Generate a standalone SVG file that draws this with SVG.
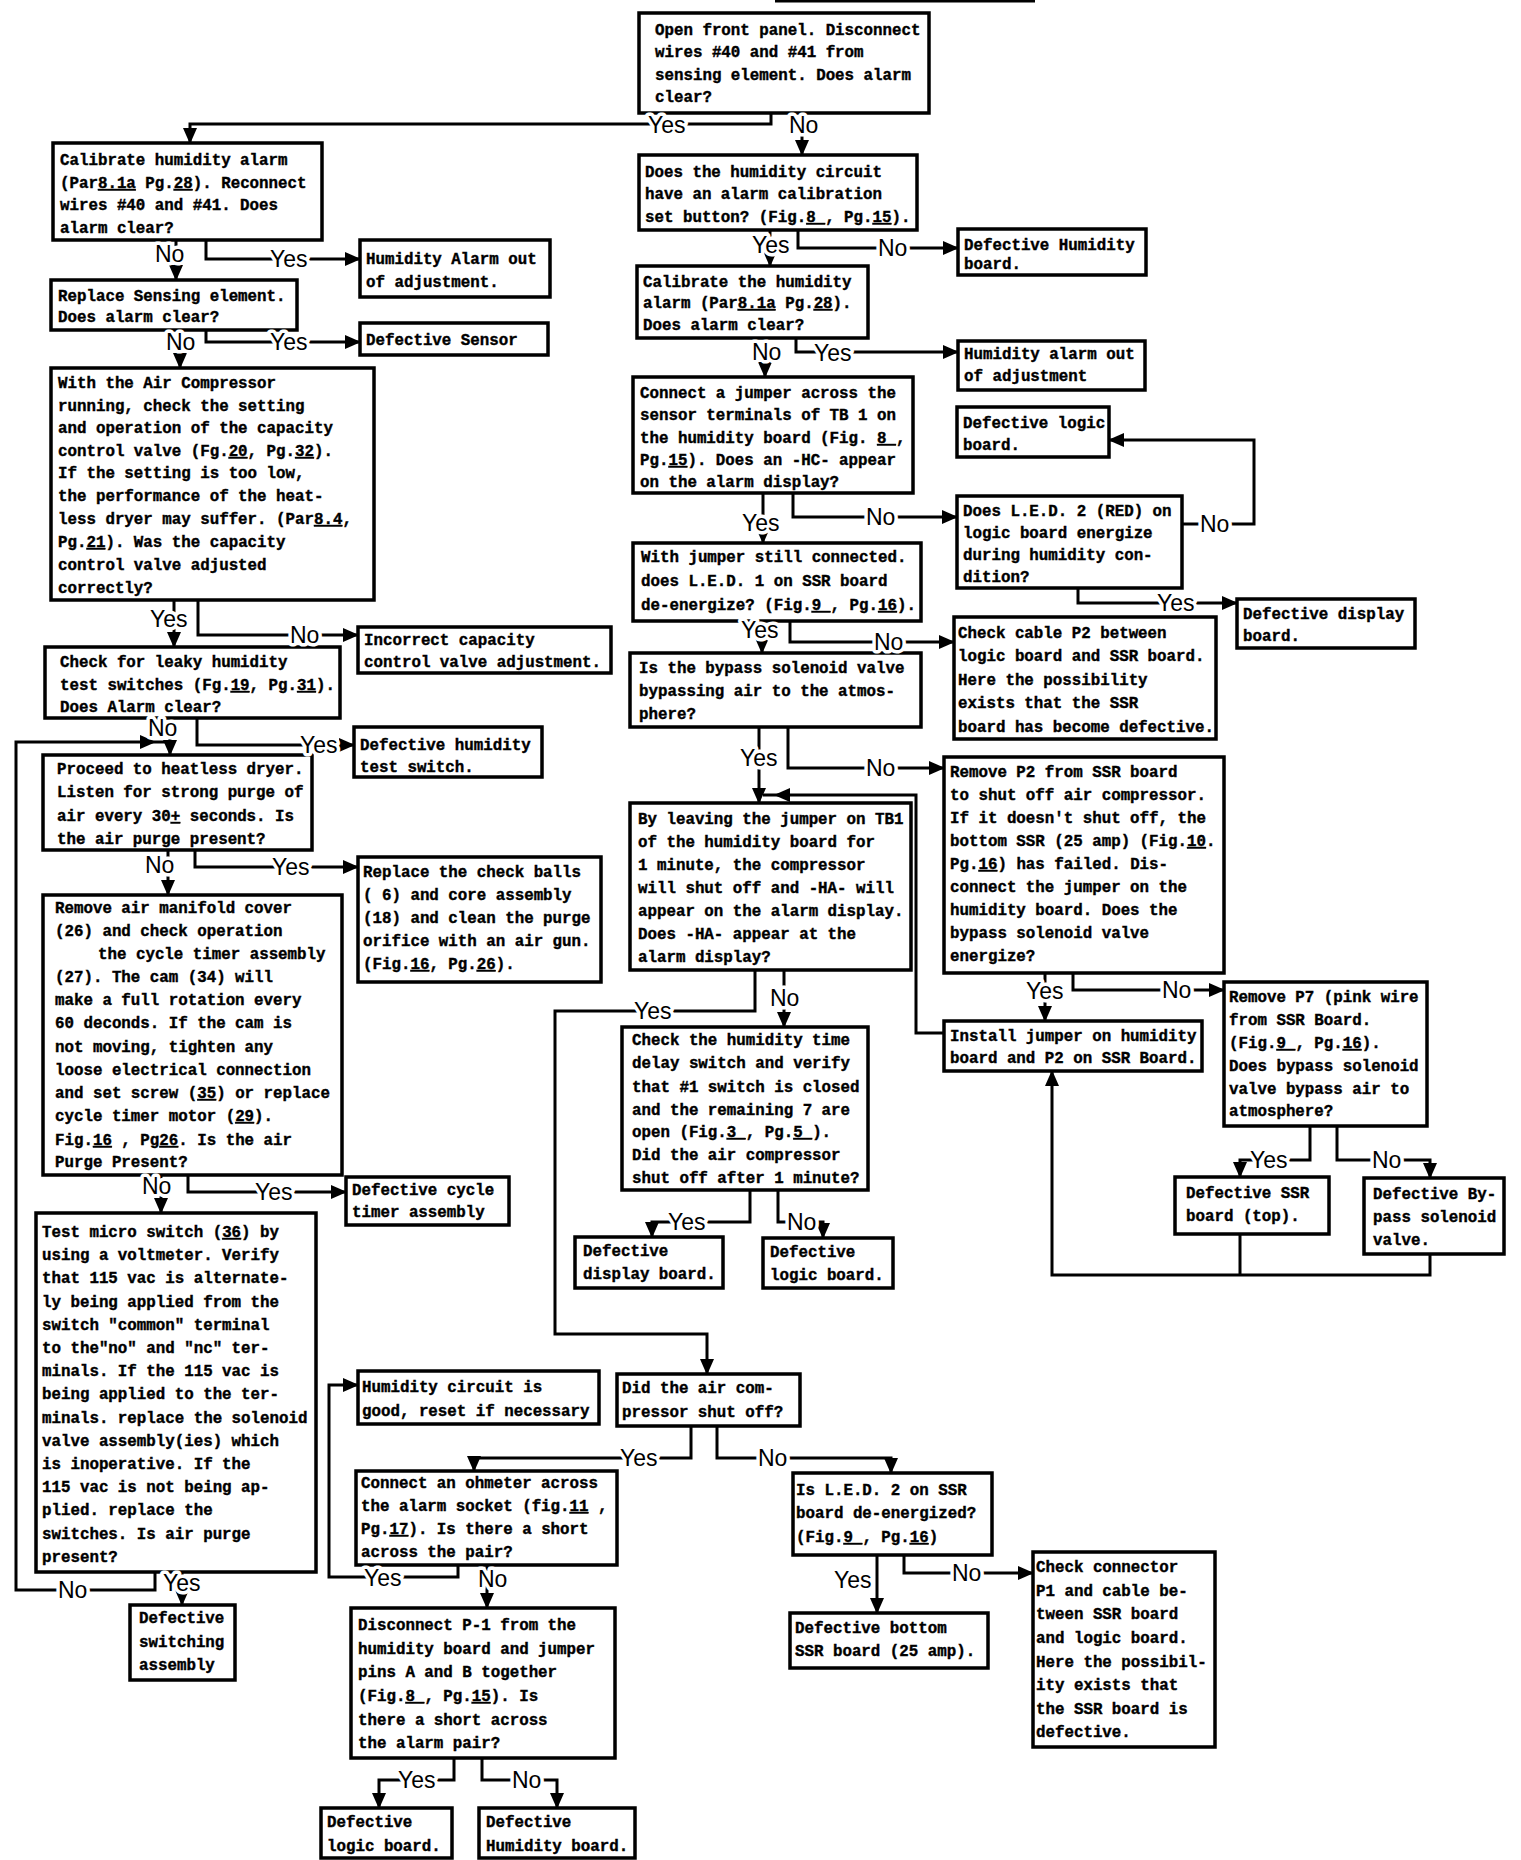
<svg xmlns="http://www.w3.org/2000/svg" width="1521" height="1860" viewBox="0 0 1521 1860">
<style>
.box{fill:#fff;stroke:#000;stroke-width:3.5}
.t{font-family:"Liberation Mono","DejaVu Sans Mono",monospace;font-weight:bold;font-size:15.8px;fill:#000;stroke:#000;stroke-width:0.4}
.c{fill:none;stroke:#000;stroke-width:3}
.a{marker-end:url(#ah)}
.l{font-family:"Liberation Sans",Arial,sans-serif;font-size:23px;fill:#000;stroke:#fff;stroke-width:7;paint-order:stroke;stroke-linejoin:round}
.u{text-decoration:underline}
</style>
<defs>
<marker id="ah" markerUnits="userSpaceOnUse" markerWidth="16" markerHeight="14" refX="15" refY="7" orient="auto"><path d="M0,0 L16,7 L0,14 z" fill="#000"/></marker>
</defs>
<rect width="1521" height="1860" fill="#fff"/>
<path class="c" d="M775,1 H1035"/>

<g id="connectors">
<path class="c a" d="M771,113 V124 H190 V143"/>
<path class="c a" d="M802,117 V155"/>
<path class="c a" d="M770,230 V266"/>
<path class="c a" d="M798,230 V248 H958"/>
<path class="c a" d="M765,338 V377"/>
<path class="c a" d="M796,338 V352 H958"/>
<path class="c a" d="M763,493 V543"/>
<path class="c a" d="M793,493 V517 H957"/>
<path class="c a" d="M1182,524 H1254 V440 H1109"/>
<path class="c a" d="M1078,588 V603 H1237"/>
<path class="c a" d="M762,621 V653"/>
<path class="c a" d="M790,621 V642 H954"/>
<path class="c a" d="M759,727 V803"/>
<path class="c a" d="M788,727 V768 H944"/>
<path class="c" d="M944,1033 H916 V795 H763"/>
<polygon points="774,795 790,788 790,802" fill="#000"/>
<path class="c a" d="M1045,973 V1021"/>
<path class="c a" d="M1073,973 V990 H1224"/>
<path class="c a" d="M1310,1126 V1160 H1240 V1177"/>
<path class="c a" d="M1337,1126 V1160 H1430 V1178"/>
<path class="c" d="M1240,1234 V1275"/>
<path class="c a" d="M1430,1254 V1275 H1052 V1071"/>
<path class="c a" d="M784,970 V1027"/>
<path class="c a" d="M755,970 V1011 H555 V1334 H707 V1374"/>
<path class="c a" d="M750,1190 V1222 H652 V1237"/>
<path class="c a" d="M778,1190 V1222 H823 V1238"/>
<path class="c a" d="M691,1426 V1458 H474 V1471"/>
<path class="c a" d="M717,1426 V1458 H891 V1473"/>
<path class="c a" d="M458,1565 V1577 H329 V1385 H358"/>
<path class="c a" d="M487,1565 V1608"/>
<path class="c a" d="M454,1758 V1780 H379 V1808"/>
<path class="c a" d="M482,1758 V1780 H557 V1808"/>
<path class="c a" d="M877,1555 V1613"/>
<path class="c a" d="M904,1555 V1573 H1033"/>
<path class="c a" d="M176,240 V280"/>
<path class="c a" d="M206,240 V259 H360"/>
<path class="c a" d="M180,330 V368"/>
<path class="c a" d="M206,330 V342 H360"/>
<path class="c a" d="M174,600 V647"/>
<path class="c a" d="M198,600 V635 H358"/>
<path class="c a" d="M170,718 V755"/>
<path class="c a" d="M197,718 V745 H354"/>
<path class="c a" d="M168,850 V895"/>
<path class="c a" d="M195,850 V867 H358"/>
<path class="c a" d="M161,1175 V1213"/>
<path class="c a" d="M188,1175 V1192 H346"/>
<path class="c a" d="M182,1572 V1605"/>
<path class="c" d="M155,1572 V1590 H16 V742 H168"/>
<polygon points="156,742 140,735 140,749" fill="#000"/>
</g>

<g id="n1"><rect class="box" x="639" y="13" width="290" height="100"/><text class="t"><tspan x="655" y="35">Open front panel. Disconnect</tspan><tspan x="655" y="57">wires #40 and #41 from</tspan><tspan x="655" y="80">sensing element. Does alarm</tspan><tspan x="655" y="102">clear?</tspan></text></g>
<g id="n2"><rect class="box" x="639" y="155" width="278" height="75"/><text class="t"><tspan x="645" y="177">Does the humidity circuit</tspan><tspan x="645" y="199">have an alarm calibration</tspan><tspan x="645" y="222">set button? (Fig.<tspan class="u">8 </tspan>, Pg.<tspan class="u">15</tspan>).</tspan></text></g>
<g id="n3"><rect class="box" x="958" y="229" width="188" height="46"/><text class="t"><tspan x="964" y="250">Defective Humidity</tspan><tspan x="964" y="269">board.</tspan></text></g>
<g id="n4"><rect class="box" x="637" y="266" width="231" height="72"/><text class="t"><tspan x="643" y="287">Calibrate the humidity</tspan><tspan x="643" y="308">alarm (Par<tspan class="u">8.1a</tspan> Pg.<tspan class="u">28</tspan>).</tspan><tspan x="643" y="330">Does alarm clear?</tspan></text></g>
<g id="n5"><rect class="box" x="958" y="341" width="187" height="49"/><text class="t"><tspan x="964" y="359">Humidity alarm out</tspan><tspan x="964" y="381">of adjustment</tspan></text></g>
<g id="n6"><rect class="box" x="957" y="407" width="152" height="50"/><text class="t"><tspan x="963" y="428">Defective logic</tspan><tspan x="963" y="450">board.</tspan></text></g>
<g id="n7"><rect class="box" x="633" y="377" width="280" height="116"/><text class="t"><tspan x="640" y="398">Connect a jumper across the</tspan><tspan x="640" y="420">sensor terminals of TB 1 on</tspan><tspan x="640" y="443">the humidity board (Fig. <tspan class="u">8 </tspan>,</tspan><tspan x="640" y="465">Pg.<tspan class="u">15</tspan>). Does an -HC- appear</tspan><tspan x="640" y="487">on the alarm display?</tspan></text></g>
<g id="n8"><rect class="box" x="957" y="496" width="225" height="92"/><text class="t"><tspan x="963" y="516">Does L.E.D. 2 (RED) on</tspan><tspan x="963" y="538">logic board energize</tspan><tspan x="963" y="560">during humidity con-</tspan><tspan x="963" y="582">dition?</tspan></text></g>
<g id="n9"><rect class="box" x="1237" y="599" width="178" height="49"/><text class="t"><tspan x="1243" y="619">Defective display</tspan><tspan x="1243" y="641">board.</tspan></text></g>
<g id="n10"><rect class="box" x="633" y="543" width="288" height="78"/><text class="t"><tspan x="641" y="562">With jumper still connected.</tspan><tspan x="641" y="586">does L.E.D. 1 on SSR board</tspan><tspan x="641" y="610">de-energize? (Fig.<tspan class="u">9 </tspan>, Pg.<tspan class="u">16</tspan>).</tspan></text></g>
<g id="n11"><rect class="box" x="954" y="617" width="262" height="122"/><text class="t"><tspan x="958" y="638">Check cable P2 between</tspan><tspan x="958" y="661">logic board and SSR board.</tspan><tspan x="958" y="685">Here the possibility</tspan><tspan x="958" y="708">exists that the SSR</tspan><tspan x="958" y="732">board has become defective.</tspan></text></g>
<g id="n12"><rect class="box" x="630" y="653" width="291" height="74"/><text class="t"><tspan x="639" y="673">Is the bypass solenoid valve</tspan><tspan x="639" y="696">bypassing air to the atmos-</tspan><tspan x="639" y="719">phere?</tspan></text></g>
<g id="n13"><rect class="box" x="944" y="757" width="280" height="216"/><text class="t"><tspan x="950" y="777">Remove P2 from SSR board</tspan><tspan x="950" y="800">to shut off air compressor.</tspan><tspan x="950" y="823">If it doesn't shut off, the</tspan><tspan x="950" y="846">bottom SSR (25 amp) (Fig.<tspan class="u">10</tspan>.</tspan><tspan x="950" y="869">Pg.<tspan class="u">16</tspan>) has failed. Dis-</tspan><tspan x="950" y="892">connect the jumper on the</tspan><tspan x="950" y="915">humidity board. Does the</tspan><tspan x="950" y="938">bypass solenoid valve</tspan><tspan x="950" y="961">energize?</tspan></text></g>
<g id="n14"><rect class="box" x="630" y="803" width="281" height="167"/><text class="t"><tspan x="638" y="824">By leaving the jumper on TB1</tspan><tspan x="638" y="847">of the humidity board for</tspan><tspan x="638" y="870">1 minute, the compressor</tspan><tspan x="638" y="893">will shut off and -HA- will</tspan><tspan x="638" y="916">appear on the alarm display.</tspan><tspan x="638" y="939">Does -HA- appear at the</tspan><tspan x="638" y="962">alarm display?</tspan></text></g>
<g id="n15"><rect class="box" x="622" y="1027" width="246" height="163"/><text class="t"><tspan x="632" y="1045">Check the humidity time</tspan><tspan x="632" y="1068">delay switch and verify</tspan><tspan x="632" y="1092">that #1 switch is closed</tspan><tspan x="632" y="1115">and the remaining 7 are</tspan><tspan x="632" y="1137">open (Fig.<tspan class="u">3 </tspan>, Pg.<tspan class="u">5 </tspan>).</tspan><tspan x="632" y="1160">Did the air compressor</tspan><tspan x="632" y="1183">shut off after 1 minute?</tspan></text></g>
<g id="n16"><rect class="box" x="944" y="1021" width="258" height="50"/><text class="t"><tspan x="950" y="1041">Install jumper on humidity</tspan><tspan x="950" y="1063">board and P2 on SSR Board.</tspan></text></g>
<g id="n17"><rect class="box" x="1224" y="982" width="203" height="144"/><text class="t"><tspan x="1229" y="1002">Remove P7 (pink wire</tspan><tspan x="1229" y="1025">from SSR Board.</tspan><tspan x="1229" y="1048">(Fig.<tspan class="u">9 </tspan>, Pg.<tspan class="u">16</tspan>).</tspan><tspan x="1229" y="1071">Does bypass solenoid</tspan><tspan x="1229" y="1094">valve bypass air to</tspan><tspan x="1229" y="1116">atmosphere?</tspan></text></g>
<g id="n18"><rect class="box" x="1175" y="1177" width="154" height="57"/><text class="t"><tspan x="1186" y="1198">Defective SSR</tspan><tspan x="1186" y="1221">board (top).</tspan></text></g>
<g id="n19"><rect class="box" x="1364" y="1178" width="140" height="76"/><text class="t"><tspan x="1373" y="1199">Defective By-</tspan><tspan x="1373" y="1222">pass solenoid</tspan><tspan x="1373" y="1245">valve.</tspan></text></g>
<g id="n20"><rect class="box" x="575" y="1237" width="148" height="51"/><text class="t"><tspan x="583" y="1256">Defective</tspan><tspan x="583" y="1279">display board.</tspan></text></g>
<g id="n21"><rect class="box" x="763" y="1238" width="130" height="50"/><text class="t"><tspan x="770" y="1257">Defective</tspan><tspan x="770" y="1280">logic board.</tspan></text></g>

<g id="l1"><rect class="box" x="53" y="143" width="269" height="97"/><text class="t"><tspan x="60" y="165">Calibrate humidity alarm</tspan><tspan x="60" y="188">(Par<tspan class="u">8.1a</tspan> Pg.<tspan class="u">28</tspan>). Reconnect</tspan><tspan x="60" y="210">wires #40 and #41. Does</tspan><tspan x="60" y="233">alarm clear?</tspan></text></g>
<g id="l2"><rect class="box" x="360" y="240" width="190" height="57"/><text class="t"><tspan x="366" y="264">Humidity Alarm out</tspan><tspan x="366" y="287">of adjustment.</tspan></text></g>
<g id="l3"><rect class="box" x="51" y="280" width="246" height="50"/><text class="t"><tspan x="58" y="301">Replace Sensing element.</tspan><tspan x="58" y="322">Does alarm clear?</tspan></text></g>
<g id="l4"><rect class="box" x="360" y="323" width="188" height="32"/><text class="t"><tspan x="366" y="345">Defective Sensor</tspan></text></g>
<g id="l5"><rect class="box" x="51" y="368" width="323" height="232"/><text class="t"><tspan x="58" y="388">With the Air Compressor</tspan><tspan x="58" y="411">running, check the setting</tspan><tspan x="58" y="433">and operation of the capacity</tspan><tspan x="58" y="456">control valve (Fg.<tspan class="u">20</tspan>, Pg.<tspan class="u">32</tspan>).</tspan><tspan x="58" y="478">If the setting is too low,</tspan><tspan x="58" y="501">the performance of the heat-</tspan><tspan x="58" y="524">less dryer may suffer. (Par<tspan class="u">8.4</tspan>,</tspan><tspan x="58" y="547">Pg.<tspan class="u">21</tspan>). Was the capacity</tspan><tspan x="58" y="570">control valve adjusted</tspan><tspan x="58" y="593">correctly?</tspan></text></g>
<g id="l6"><rect class="box" x="358" y="627" width="253" height="46"/><text class="t"><tspan x="364" y="645">Incorrect capacity</tspan><tspan x="364" y="667">control valve adjustment.</tspan></text></g>
<g id="l7"><rect class="box" x="45" y="647" width="295" height="71"/><text class="t"><tspan x="60" y="667">Check for leaky humidity</tspan><tspan x="60" y="690">test switches (Fg.<tspan class="u">19</tspan>, Pg.<tspan class="u">31</tspan>).</tspan><tspan x="60" y="712">Does Alarm clear?</tspan></text></g>
<g id="l8"><rect class="box" x="354" y="727" width="188" height="50"/><text class="t"><tspan x="360" y="750">Defective humidity</tspan><tspan x="360" y="772">test switch.</tspan></text></g>
<g id="l9"><rect class="box" x="43" y="755" width="269" height="95"/><text class="t"><tspan x="57" y="774">Proceed to heatless dryer.</tspan><tspan x="57" y="797">Listen for strong purge of</tspan><tspan x="57" y="821">air every 30<tspan class="u">+</tspan> seconds. Is</tspan><tspan x="57" y="844">the air purge present?</tspan></text></g>
<g id="l10"><rect class="box" x="358" y="857" width="243" height="125"/><text class="t"><tspan x="363" y="877">Replace the check balls</tspan><tspan x="363" y="900">( 6) and core assembly</tspan><tspan x="363" y="923">(18) and clean the purge</tspan><tspan x="363" y="946">orifice with an air gun.</tspan><tspan x="363" y="969">(Fig.<tspan class="u">16</tspan>, Pg.<tspan class="u">26</tspan>).</tspan></text></g>
<g id="l11"><rect class="box" x="43" y="895" width="299" height="280"/><text class="t"><tspan x="55" y="913">Remove air manifold cover</tspan><tspan x="55" y="936">(26) and check operation</tspan><tspan x="98" y="959">the cycle timer assembly</tspan><tspan x="55" y="982">(27). The cam (34) will</tspan><tspan x="55" y="1005">make a full rotation every</tspan><tspan x="55" y="1028">60 deconds. If the cam is</tspan><tspan x="55" y="1052">not moving, tighten any</tspan><tspan x="55" y="1075">loose electrical connection</tspan><tspan x="55" y="1098">and set screw (<tspan class="u">35</tspan>) or replace</tspan><tspan x="55" y="1121">cycle timer motor (<tspan class="u">29</tspan>).</tspan><tspan x="55" y="1145">Fig.<tspan class="u">16</tspan> , Pg<tspan class="u">26</tspan>.  Is the air</tspan><tspan x="55" y="1167">Purge Present?</tspan></text></g>
<g id="l12"><rect class="box" x="346" y="1177" width="163" height="48"/><text class="t"><tspan x="352" y="1195">Defective cycle</tspan><tspan x="352" y="1217">timer assembly</tspan></text></g>
<g id="l13"><rect class="box" x="36" y="1213" width="280" height="359"/><text class="t"><tspan x="42" y="1237">Test micro switch (<tspan class="u">36</tspan>) by</tspan><tspan x="42" y="1260">using a voltmeter. Verify</tspan><tspan x="42" y="1283">that 115 vac is alternate-</tspan><tspan x="42" y="1307">ly being applied from the</tspan><tspan x="42" y="1330">switch "common" terminal</tspan><tspan x="42" y="1353">to the"no" and "nc" ter-</tspan><tspan x="42" y="1376">minals. If the 115 vac is</tspan><tspan x="42" y="1399">being applied to the ter-</tspan><tspan x="42" y="1423">minals. replace the solenoid</tspan><tspan x="42" y="1446">valve assembly(ies) which</tspan><tspan x="42" y="1469">is inoperative. If the</tspan><tspan x="42" y="1492">115 vac is not being ap-</tspan><tspan x="42" y="1515">plied. replace the</tspan><tspan x="42" y="1539">switches. Is air purge</tspan><tspan x="42" y="1562">present?</tspan></text></g>
<g id="l14"><rect class="box" x="130" y="1605" width="105" height="75"/><text class="t"><tspan x="139" y="1623">Defective</tspan><tspan x="139" y="1647">switching</tspan><tspan x="139" y="1670">assembly</tspan></text></g>

<g id="c1"><rect class="box" x="358" y="1371" width="241" height="53"/><text class="t"><tspan x="362" y="1392">Humidity circuit is</tspan><tspan x="362" y="1416">good, reset if necessary</tspan></text></g>
<g id="c2"><rect class="box" x="617" y="1374" width="183" height="52"/><text class="t"><tspan x="622" y="1393">Did the air com-</tspan><tspan x="622" y="1417">pressor shut off?</tspan></text></g>
<g id="c3"><rect class="box" x="356" y="1471" width="261" height="94"/><text class="t"><tspan x="361" y="1488">Connect an ohmeter across</tspan><tspan x="361" y="1511">the alarm socket (fig.<tspan class="u">11</tspan> ,</tspan><tspan x="361" y="1534">Pg.<tspan class="u">17</tspan>). Is there a short</tspan><tspan x="361" y="1557">across the pair?</tspan></text></g>
<g id="c4"><rect class="box" x="351" y="1608" width="264" height="150"/><text class="t"><tspan x="358" y="1630">Disconnect P-1  from the</tspan><tspan x="358" y="1654">humidity board and jumper</tspan><tspan x="358" y="1677">pins A and B together</tspan><tspan x="358" y="1701">(Fig.<tspan class="u">8 </tspan>, Pg.<tspan class="u">15</tspan>). Is</tspan><tspan x="358" y="1725">there a short across</tspan><tspan x="358" y="1748">the alarm pair?</tspan></text></g>
<g id="c5"><rect class="box" x="321" y="1808" width="131" height="50"/><text class="t"><tspan x="327" y="1827">Defective</tspan><tspan x="327" y="1851">logic board.</tspan></text></g>
<g id="c6"><rect class="box" x="479" y="1808" width="156" height="50"/><text class="t"><tspan x="486" y="1827">Defective</tspan><tspan x="486" y="1851">Humidity board.</tspan></text></g>
<g id="c7"><rect class="box" x="793" y="1473" width="199" height="82"/><text class="t"><tspan x="796" y="1495">Is L.E.D. 2 on SSR</tspan><tspan x="796" y="1518">board de-energized?</tspan><tspan x="796" y="1542">(Fig.<tspan class="u">9 </tspan>, Pg.<tspan class="u">16</tspan>)</tspan></text></g>
<g id="c8"><rect class="box" x="790" y="1613" width="198" height="55"/><text class="t"><tspan x="795" y="1633">Defective bottom</tspan><tspan x="795" y="1656">SSR board (25 amp).</tspan></text></g>
<g id="c9"><rect class="box" x="1033" y="1552" width="182" height="195"/><text class="t"><tspan x="1036" y="1572">Check connector</tspan><tspan x="1036" y="1596">P1 and cable be-</tspan><tspan x="1036" y="1619">tween SSR board</tspan><tspan x="1036" y="1643">and logic board.</tspan><tspan x="1036" y="1667">Here the possibil-</tspan><tspan x="1036" y="1690">ity exists that</tspan><tspan x="1036" y="1714">the SSR board is</tspan><tspan x="1036" y="1737">defective.</tspan></text></g>

<g id="labels">
<text class="l" x="648" y="133">Yes</text>
<text class="l" x="789" y="133">No</text>
<text class="l" x="752" y="253">Yes</text>
<text class="l" x="878" y="256">No</text>
<text class="l" x="752" y="360">No</text>
<text class="l" x="814" y="361">Yes</text>
<text class="l" x="742" y="531">Yes</text>
<text class="l" x="866" y="525">No</text>
<text class="l" x="1200" y="532">No</text>
<text class="l" x="1157" y="611">Yes</text>
<text class="l" x="741" y="638">Yes</text>
<text class="l" x="874" y="650">No</text>
<text class="l" x="740" y="766">Yes</text>
<text class="l" x="866" y="776">No</text>
<text class="l" x="1026" y="999">Yes</text>
<text class="l" x="1162" y="998">No</text>
<text class="l" x="1250" y="1168">Yes</text>
<text class="l" x="1372" y="1168">No</text>
<text class="l" x="770" y="1006">No</text>
<text class="l" x="634" y="1019">Yes</text>
<text class="l" x="668" y="1230">Yes</text>
<text class="l" x="787" y="1230">No</text>
<text class="l" x="620" y="1466">Yes</text>
<text class="l" x="758" y="1466">No</text>
<text class="l" x="364" y="1586">Yes</text>
<text class="l" x="478" y="1587">No</text>
<text class="l" x="398" y="1788">Yes</text>
<text class="l" x="512" y="1788">No</text>
<text class="l" x="834" y="1588">Yes</text>
<text class="l" x="952" y="1581">No</text>
<text class="l" x="155" y="262">No</text>
<text class="l" x="270" y="267">Yes</text>
<text class="l" x="166" y="350">No</text>
<text class="l" x="270" y="350">Yes</text>
<text class="l" x="150" y="627">Yes</text>
<text class="l" x="290" y="643">No</text>
<text class="l" x="148" y="736">No</text>
<text class="l" x="300" y="753">Yes</text>
<text class="l" x="145" y="873">No</text>
<text class="l" x="272" y="875">Yes</text>
<text class="l" x="142" y="1194">No</text>
<text class="l" x="255" y="1200">Yes</text>
<text class="l" x="163" y="1591">Yes</text>
<text class="l" x="58" y="1598">No</text>
</g>
</svg>
